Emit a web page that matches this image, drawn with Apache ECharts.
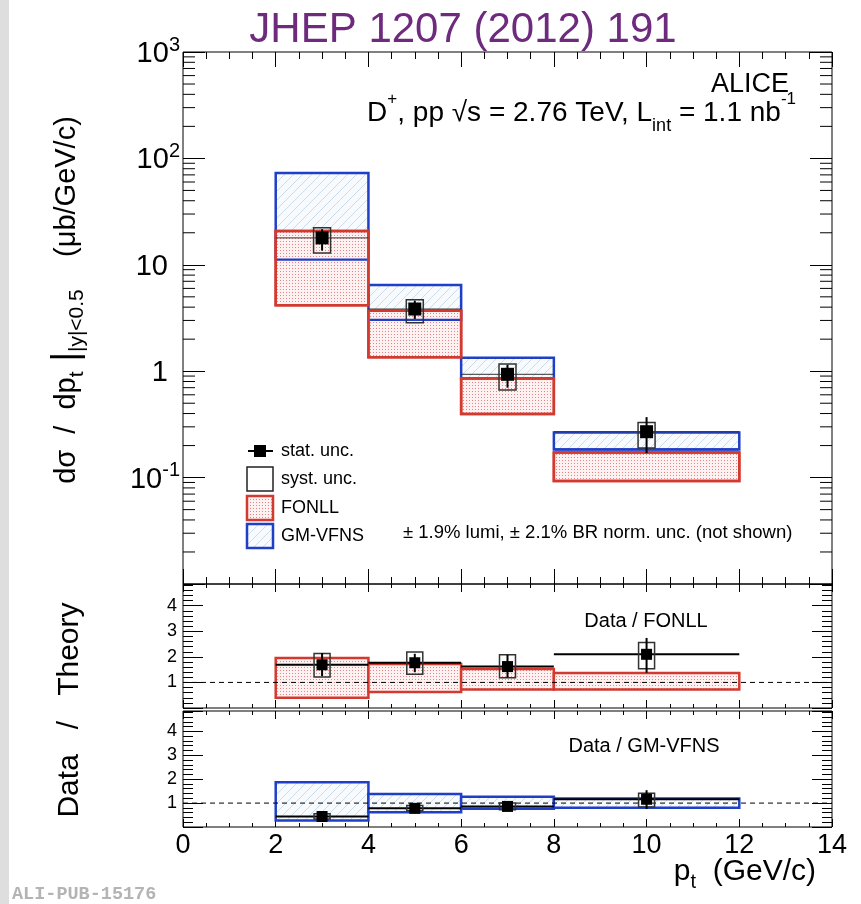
<!DOCTYPE html>
<html><head><meta charset="utf-8">
<script src="https://cdn.jsdelivr.net/npm/echarts@6/dist/echarts.min.js"></script>
<style>html,body{margin:0;padding:0;background:#fff}#c{width:861px;height:904px}</style>
</head><body><div id="c"></div>
<script>
// ---------- data ----------
const binLo = [2, 4, 6, 8];
const binHi = [4, 6, 8, 12];
const ptCenter = [3, 5, 7, 10];
// main panel: dsigma/dpt (mub/GeV/c)
const xsec       = [17.9, 3.84, 0.935, 0.27];
const xsecStatLo = [13.6, 3.1, 0.70, 0.17];
const xsecStatHi = [21.6, 4.6, 1.15, 0.37];
const xsecSystLo = [12.9, 2.85, 0.665, 0.19];
const xsecSystHi = [22.3, 4.7, 1.17, 0.33];
const fonllLo  = [4.16, 1.35, 0.396, 0.093];
const fonllHi  = [20.8, 3.70, 0.857, 0.172];
const gmvfnsLo = [11.2, 3.03, 0.857, 0.184];
const gmvfnsHi = [73.0, 6.46, 1.34, 0.265];
// Data / FONLL
const ratioF       = [1.69, 1.77, 1.62, 2.10];
const ratioFStatLo = [1.25, 1.40, 1.20, 1.38];
const ratioFStatHi = [2.15, 2.12, 2.08, 2.74];
const ratioFSystLo = [1.21, 1.32, 1.18, 1.54];
const ratioFSystHi = [2.13, 2.19, 2.08, 2.56];
const fonllRatioLo = [0.40, 0.63, 0.72, 0.72];
const fonllRatioHi = [1.96, 1.72, 1.53, 1.37];
// Data / GM-VFNS
const ratioG       = [0.44, 0.78, 0.86, 1.16];
const ratioGStatLo = [0.32, 0.66, 0.70, 0.75];
const ratioGStatHi = [0.56, 0.90, 1.02, 1.54];
const ratioGSystLo = [0.33, 0.68, 0.72, 0.84];
const ratioGSystHi = [0.55, 0.90, 1.00, 1.41];
const gmRatioLo = [0.27, 0.62, 0.76, 0.80];
const gmRatioHi = [1.87, 1.38, 1.26, 1.19];
// axes
const xMin = 0, xMax = 14, xStep = 2;
const xTickLabels = ['0','2','4','6','8','10','12','14'];
const logMin = 0.01, logMax = 1000;
const ratioMin = 0, ratioMax = 4.85;
const unityRef = 1;
const logMinorTicks = [];
[0.01, 0.1, 1, 10, 100].forEach(d => { for (let k = 2; k <= 9; k++) logMinorTicks.push(+(d * k).toPrecision(3)); });

// ---------- styles ----------
const FONT = '"Liberation Sans", Arial, Helvetica, sans-serif';
const RED = '#d23a30', BLUE = '#1f3fc6';
function makePattern(w, h, draw) {
  const c = document.createElement('canvas'); c.width = w; c.height = h;
  draw(c.getContext('2d')); return { image: c, repeat: 'repeat' };
}
const redDots = makePattern(3, 3, ctx => {
  ctx.fillStyle = '#fdf1f1'; ctx.fillRect(0, 0, 3, 3);
  ctx.fillStyle = '#e58585'; ctx.fillRect(1, 1, 1, 1);
});
const blueHatch = makePattern(9, 9, ctx => {
  ctx.fillStyle = '#f8fbfe'; ctx.fillRect(0, 0, 9, 9);
  ctx.strokeStyle = '#cddbeb'; ctx.lineWidth = 1;
  ctx.beginPath(); ctx.moveTo(-1, 10); ctx.lineTo(10, -1);
  ctx.moveTo(-1, 1); ctx.lineTo(1, -1); ctx.moveTo(8, 10); ctx.lineTo(10, 8); ctx.stroke();
});

function boxData(lo, hi) { return binLo.map((b, i) => [b, binHi[i], lo[i], hi[i]]); }
function ptsData(v, sl, sh, yl, yh) { return ptCenter.map((x, i) => [x, v[i], binLo[i], binHi[i], sl[i], sh[i], yl[i], yh[i]]); }

function boxRenderer(stroke, fill, lw) {
  return function (params, api) {
    const a = api.coord([api.value(0), api.value(3)]);
    const b = api.coord([api.value(1), api.value(2)]);
    return { type: 'rect', shape: { x: a[0], y: a[1], width: b[0] - a[0], height: b[1] - a[1] },
      style: { fill: fill || 'none', stroke: stroke, lineWidth: lw } };
  };
}
function lowLineRenderer(stroke, lw) {
  return function (params, api) {
    const a = api.coord([api.value(0), api.value(2)]);
    const b = api.coord([api.value(1), api.value(2)]);
    return { type: 'line', shape: { x1: a[0] + 1, y1: a[1], x2: b[0] - 1, y2: b[1] }, style: { stroke: stroke, lineWidth: lw } };
  };
}
function dataRenderer(o) {
  return function (params, api) {
    const x = api.value(0), y = api.value(1);
    const c = api.coord([x, y]);
    const xl = api.coord([api.value(2), y]), xh = api.coord([api.value(3), y]);
    const sl = api.coord([x, api.value(4)]), sh = api.coord([x, api.value(5)]);
    const yl = api.coord([x, api.value(6)]), yh = api.coord([x, api.value(7)]);
    const hw = o.half, m = o.marker;
    return { type: 'group', children: [
      { type: 'line', shape: { x1: xl[0], y1: c[1], x2: xh[0], y2: c[1] }, style: { stroke: o.xerrColor, lineWidth: o.xerrWidth } },
      { type: 'rect', shape: { x: c[0] - hw, y: yh[1], width: 2 * hw, height: yl[1] - yh[1] }, style: { fill: 'none', stroke: '#333', lineWidth: 1.5 } },
      { type: 'line', shape: { x1: c[0], y1: sl[1], x2: c[0], y2: sh[1] }, style: { stroke: '#000', lineWidth: 2 } },
      { type: 'rect', shape: { x: c[0] - m / 2, y: c[1] - m / 2, width: m, height: m }, style: { fill: '#000' } }
    ] };
  };
}
function minorLogRenderer(params, api) {
  const l = api.coord([xMin, api.value(1)]), r = api.coord([xMax, api.value(1)]);
  return { type: 'group', children: [
    { type: 'line', shape: { x1: l[0], y1: l[1], x2: l[0] + 12, y2: l[1] }, style: { stroke: '#000', lineWidth: 1 } },
    { type: 'line', shape: { x1: r[0] - 12, y1: r[1], x2: r[0], y2: r[1] }, style: { stroke: '#000', lineWidth: 1 } }
  ] };
}

const noLine = { show: false, onZero: false };
function xAx(grid, pos, major, minor, labels) {
  return { type: 'value', gridIndex: grid, position: pos, min: xMin, max: xMax, interval: xStep,
    axisLine: noLine, splitLine: { show: false },
    axisTick: { show: true, inside: true, length: major, lineStyle: { color: '#000', width: 1 } },
    minorTick: { show: true, splitNumber: 4, length: minor, lineStyle: { color: '#000', width: 1 } },
    axisLabel: labels ? { show: true, fontFamily: FONT, fontSize: 27, color: '#000', margin: 5,
      formatter: v => xTickLabels[Math.round((v - xMin) / xStep)] || '' } : { show: false } };
}
function ratioY(grid, pos, labels) {
  return { type: 'value', gridIndex: grid, position: pos, min: ratioMin, max: ratioMax, interval: 1,
    axisLine: noLine, splitLine: { show: false },
    axisTick: { show: true, inside: true, length: 20, lineStyle: { color: '#000' } },
    minorTick: { show: true, splitNumber: 5, length: 10, lineStyle: { color: '#000' } },
    axisLabel: labels ? { show: true, fontFamily: FONT, fontSize: 18, color: '#000', margin: 6, showMaxLabel: false,
      formatter: v => (v > 0.5 && Math.abs(v - Math.round(v)) < 1e-6) ? String(Math.round(v)) : '' } : { show: false } };
}
function logY(pos, labels) {
  return { type: 'log', logBase: 10, gridIndex: 0, position: pos, min: logMin, max: logMax,
    axisLine: noLine, splitLine: { show: false }, minorTick: { show: false },
    axisTick: { show: true, inside: true, length: 22, lineStyle: { color: '#000' } },
    axisLabel: labels ? { show: true, color: '#000', margin: 3, padding: [4, 0, 0, 0],
      formatter: v => { const e = Math.round(Math.log10(v));
        if (e === -2) return ''; if (e === 0) return '{n|1}{sp|}'; if (e === 1) return '{n|10}{sp|}';
        return '{n|10}{sup|' + e + '}'; },
      rich: { n: { fontFamily: FONT, fontSize: 29, lineHeight: 38, verticalAlign: 'middle', color: '#000' },
              sup: { fontFamily: FONT, fontSize: 20, lineHeight: 20, verticalAlign: 'top', color: '#000' },
              sp: { width: 12 } } } : { show: false } };
}

const grids = [
  { left: 183, top: 52, width: 649, height: 532 },
  { left: 183, top: 584, width: 649, height: 124 },
  { left: 183, top: 711, width: 649, height: 116 }
].map(g => Object.assign(g, { show: true, borderColor: '#000', borderWidth: 1, backgroundColor: 'transparent' }));

const dashed = (xi, yi) => ({ type: 'line', xAxisIndex: xi, yAxisIndex: yi, data: [[xMin, unityRef], [xMax, unityRef]],
  symbol: 'none', silent: true, z: 4, lineStyle: { color: '#000', width: 1, type: [5, 4] } });

const txt = (x, y, text, size, extra) => Object.assign({ type: 'text', silent: true, x: x, y: y,
  style: Object.assign({ text: text, font: size + 'px ' + FONT, fill: '#000', verticalAlign: 'middle', textVerticalAlign: 'middle' }, extra || {}) });
const ctr = { align: 'center', textAlign: 'center' }, rgt = { align: 'right', textAlign: 'right' };

const option = {
  animation: false,
  backgroundColor: '#fff',
  grid: grids,
  xAxis: [xAx(0, 'bottom', 15, 7, false), xAx(0, 'top', 15, 7, false),
          xAx(1, 'bottom', 8, 4, false), xAx(1, 'top', 8, 4, false),
          xAx(2, 'bottom', 8, 4, true), xAx(2, 'top', 8, 4, false)],
  yAxis: [logY('left', true), logY('right', false),
          ratioY(1, 'left', true), ratioY(1, 'right', false),
          ratioY(2, 'left', true), ratioY(2, 'right', false)],
  series: [
    { type: 'custom', name: 'GM-VFNS', xAxisIndex: 0, yAxisIndex: 0, z: 1, data: boxData(gmvfnsLo, gmvfnsHi),
      encode: { x: [0, 1], y: [2, 3] }, renderItem: boxRenderer(BLUE, blueHatch, 2.5) },
    { type: 'custom', name: 'FONLL', xAxisIndex: 0, yAxisIndex: 0, z: 2, data: boxData(fonllLo, fonllHi),
      encode: { x: [0, 1], y: [2, 3] }, renderItem: boxRenderer(RED, redDots, 2.5) },
    { type: 'custom', name: 'GM-VFNS low edge', xAxisIndex: 0, yAxisIndex: 0, z: 3, data: boxData(gmvfnsLo, gmvfnsHi),
      encode: { x: [0, 1], y: [2, 3] }, renderItem: lowLineRenderer(BLUE, 2.2) },
    { type: 'custom', name: 'FONLL edge', xAxisIndex: 0, yAxisIndex: 0, z: 4, data: boxData(fonllLo, fonllHi),
      encode: { x: [0, 1], y: [2, 3] }, renderItem: boxRenderer(RED, null, 2.5) },
    { type: 'custom', name: 'data', xAxisIndex: 0, yAxisIndex: 0, z: 6,
      data: ptsData(xsec, xsecStatLo, xsecStatHi, xsecSystLo, xsecSystHi), encode: { x: 0, y: 1 },
      renderItem: dataRenderer({ half: 8.5, marker: 13, xerrColor: '#333', xerrWidth: 1 }) },
    { type: 'custom', name: 'log minor ticks', xAxisIndex: 0, yAxisIndex: 0, z: 7, silent: true,
      data: logMinorTicks.map(v => [xMin, v]), encode: { x: 0, y: 1 }, renderItem: minorLogRenderer },

    { type: 'custom', name: 'FONLL ratio', xAxisIndex: 2, yAxisIndex: 2, z: 2, data: boxData(fonllRatioLo, fonllRatioHi),
      encode: { x: [0, 1], y: [2, 3] }, renderItem: boxRenderer(RED, redDots, 2.5) },
    dashed(2, 2),
    { type: 'custom', name: 'Data/FONLL', xAxisIndex: 2, yAxisIndex: 2, z: 6,
      data: ptsData(ratioF, ratioFStatLo, ratioFStatHi, ratioFSystLo, ratioFSystHi), encode: { x: 0, y: 1 },
      renderItem: dataRenderer({ half: 8, marker: 11, xerrColor: '#000', xerrWidth: 2 }) },

    { type: 'custom', name: 'GM-VFNS ratio', xAxisIndex: 4, yAxisIndex: 4, z: 2, data: boxData(gmRatioLo, gmRatioHi),
      encode: { x: [0, 1], y: [2, 3] }, renderItem: boxRenderer(BLUE, blueHatch, 2.5) },
    dashed(4, 4),
    { type: 'custom', name: 'Data/GM-VFNS', xAxisIndex: 4, yAxisIndex: 4, z: 6,
      data: ptsData(ratioG, ratioGStatLo, ratioGStatHi, ratioGSystLo, ratioGSystHi), encode: { x: 0, y: 1 },
      renderItem: dataRenderer({ half: 8, marker: 11, xerrColor: '#000', xerrWidth: 2 }) }
  ],
  graphic: [
    { type: 'rect', silent: true, z: 0, shape: { x: 0, y: 0, width: 9, height: 904 }, style: { fill: '#dedede' } },
    txt(463, 30, 'JHEP 1207 (2012) 191', 42, Object.assign({ fill: '#6e2b7d' }, ctr)),
    txt(789, 85, 'ALICE', 27, rgt),
    { type: 'text', silent: true, x: 796, y: 113, style: {
      text: '{n|D}{p|+}{n|, pp √s = 2.76 TeV, L}{s|int}{n| = 1.1 nb}{p|-1}',
      align: 'right', verticalAlign: 'middle', textAlign: 'right', textVerticalAlign: 'middle',
      rich: { n: { fontFamily: FONT, fontSize: 28, lineHeight: 44, verticalAlign: 'middle', fill: '#000', color: '#000' },
              p: { fontFamily: FONT, fontSize: 17, lineHeight: 26, verticalAlign: 'top', fill: '#000', color: '#000' },
              s: { fontFamily: FONT, fontSize: 18, lineHeight: 22, verticalAlign: 'bottom', fill: '#000', color: '#000' } } } },
    // legend
    { type: 'line', silent: true, shape: { x1: 248, y1: 451, x2: 273, y2: 451 }, style: { stroke: '#000', lineWidth: 2 } },
    { type: 'rect', silent: true, shape: { x: 254, y: 445, width: 12, height: 12 }, style: { fill: '#000' } },
    { type: 'rect', silent: true, shape: { x: 247, y: 467, width: 26, height: 24 }, style: { fill: 'none', stroke: '#222', lineWidth: 1.5 } },
    { type: 'rect', silent: true, shape: { x: 247, y: 496, width: 26, height: 24 }, style: { fill: redDots, stroke: RED, lineWidth: 2.5 } },
    { type: 'rect', silent: true, shape: { x: 247, y: 524, width: 26, height: 24 }, style: { fill: blueHatch, stroke: BLUE, lineWidth: 2.5 } },
    txt(281, 451, 'stat. unc.', 18),
    txt(281, 479, 'syst. unc.', 18),
    txt(281, 508, 'FONLL', 18),
    txt(281, 536, 'GM-VFNS', 18),
    txt(403, 533, '± 1.9% lumi, ± 2.1% BR norm. unc. (not shown)', 18.5),
    txt(646, 621, 'Data / FONLL', 20, ctr),
    txt(644, 746, 'Data / GM-VFNS', 20, ctr),
    // axis titles
    { type: 'text', silent: true, x: 67, y: 300, rotation: Math.PI / 2, style: {
      text: '{n|dσ  /  dp}{s|t}{b| |}{s||y|<0.5}{n|    (μb/GeV/c)}',
      align: 'center', verticalAlign: 'middle', textAlign: 'center', textVerticalAlign: 'middle',
      rich: { n: { fontFamily: FONT, fontSize: 29, lineHeight: 42, verticalAlign: 'middle', fill: '#000', color: '#000' },
              s: { fontFamily: FONT, fontSize: 21, lineHeight: 22, verticalAlign: 'bottom', fill: '#000', color: '#000' },
              b: { fontFamily: FONT, fontSize: 36, lineHeight: 42, verticalAlign: 'middle', fill: '#000', color: '#000' } } } },
    { type: 'text', silent: true, x: 70, y: 710, rotation: Math.PI / 2, style: {
      text: 'Data   /   Theory', font: '30px ' + FONT, fill: '#000',
      align: 'center', verticalAlign: 'middle', textAlign: 'center', textVerticalAlign: 'middle' } },
    { type: 'text', silent: true, x: 816, y: 872, style: {
      text: '{n|p}{s|t}{n|  (GeV/c)}', align: 'right', verticalAlign: 'middle', textAlign: 'right', textVerticalAlign: 'middle',
      rich: { n: { fontFamily: FONT, fontSize: 30, lineHeight: 40, verticalAlign: 'middle', fill: '#000', color: '#000' },
              s: { fontFamily: FONT, fontSize: 20, lineHeight: 20, verticalAlign: 'bottom', fill: '#000', color: '#000' } } } },
    { type: 'text', silent: true, x: 12, y: 894, style: { text: 'ALI-PUB-15176', font: 'bold 18.5px "Liberation Mono", "DejaVu Sans Mono", monospace',
      fill: '#b4b4b4', verticalAlign: 'middle', textVerticalAlign: 'middle' } }
  ]
};
const chart = echarts.init(document.getElementById('c'), null, { renderer: 'canvas', width: 861, height: 904 });
chart.setOption(option);
</script></body></html>
